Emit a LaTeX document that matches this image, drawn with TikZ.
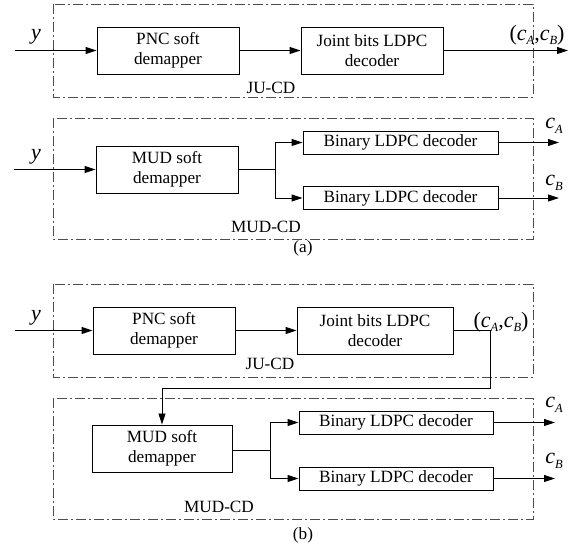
\documentclass[tikz,border=0pt]{standalone}
\usepackage{fontspec}
\setmainfont{Liberation Serif}
\usepackage{tikz}
\usetikzlibrary{arrows.meta, calc, positioning}

% italic symbol with italic subscript, as in the figure
\newcommand{\sig}[2]{\textit{#1}\raisebox{-4.5pt}{\fontsize{12.5}{12.5}\selectfont\textit{#2}}}

\begin{document}
\begin{tikzpicture}[
        x=1pt, y=-1pt,
        font=\fontsize{17.2}{19.5}\selectfont,
        block/.style={
            draw,
            line width=0.9pt,
            align=center,
            inner sep=1pt
        },
        softbox/.style={
            block,
            minimum width=142pt,
            minimum height=47pt
        },
        ldpcbox/.style={
            block,
            minimum width=195pt,
            minimum height=23pt
        },
        frame/.style={
            draw=black!70,
            line width=0.8pt,
            dash pattern=on 10pt off 3pt on 2pt off 3pt
        },
        link/.style={
            line width=0.9pt,
            -{Triangle[length=11pt,width=7pt]}
        },
        wire/.style={
            line width=0.9pt
        },
        framelabel/.style={
            inner sep=1pt
        },
        sigfont/.style={
            inner sep=1pt,
            font=\fontsize{22}{22}\selectfont
        }
    ]
    \useasboundingbox (0,0) rectangle (576,545);

    % (a) joint decoding
    \draw[frame] (53,4) rectangle (533,97);
    \node[softbox] (pncA) at (168,50.5) {PNC soft\\demapper};
    \node[softbox] (jointA) at (372,50.5) {Joint bits LDPC\\decoder};
    \node[framelabel] (juA) at (271,88) {JU-CD};
    \coordinate (inA) at (15,50.5);
    \coordinate (outA) at (568,50.5);
    \node[sigfont] (yA) at (36,37) {\textit{y}};
    \node[sigfont] (cabA) at (537,35) {(\sig{c}{A},\sig{c}{B})};
    \draw[link] (inA) -- (pncA);
    \draw[link] (pncA) -- (jointA);
    \draw[link] (jointA) -- (outA);

    % (a) separate decoding
    \draw[frame] (53,118) rectangle (533,239);
    \node[softbox] (mudA) at (167,169.5) {MUD soft\\demapper};
    \node[ldpcbox] (binA1) at (400.5,142.5) {Binary LDPC decoder};
    \node[ldpcbox] (binA2) at (400.5,198) {Binary LDPC decoder};
    \node[framelabel] (mudcdA) at (266,227) {MUD-CD};
    \coordinate (inA2) at (14,169.5);
    \coordinate (splitA) at (275,169.5);
    \coordinate (outA1) at (559,142.5);
    \coordinate (outA2) at (559,198);
    \node[sigfont] (yA2) at (36,157) {\textit{y}};
    \node[sigfont] (caA) at (554,126) {\sig{c}{A}};
    \node[sigfont] (cbA) at (554,183) {\sig{c}{B}};
    \draw[link] (inA2) -- (mudA);
    \draw[wire] (mudA) -- (splitA);
    \draw[link] (splitA) |- (binA1);
    \draw[link] (splitA) |- (binA2);
    \draw[link] (binA1) -- (outA1);
    \draw[link] (binA2) -- (outA2);
    \node (capA) at (303,248) {(a)};

    % (b) joint decoding
    \draw[frame] (53,284) rectangle (533,377);
    \node[softbox] (pncB) at (164,330.5) {PNC soft\\demapper};
    \node[softbox, minimum width=156pt] (jointB) at (375,330.5) {Joint bits LDPC\\decoder};
    \node[framelabel] (juB) at (270,364) {JU-CD};
    \coordinate (inB) at (15,330.5);
    \coordinate (turnB) at (490,388);
    \node[sigfont] (yB) at (36,318) {\textit{y}};
    \node[sigfont] (cabB) at (501,322) {(\sig{c}{A},\sig{c}{B})};
    \draw[link] (inB) -- (pncB);
    \draw[link] (pncB) -- (jointB);

    % (b) separate decoding
    \draw[frame] (53,398) rectangle (533,519);
    \node[softbox, minimum width=140pt] (mudB) at (162,448.5) {MUD soft\\demapper};
    \node[ldpcbox, minimum width=194pt] (binB1) at (396,422.5) {Binary LDPC decoder};
    \node[ldpcbox, minimum width=194pt] (binB2) at (396,478.5) {Binary LDPC decoder};
    \node[framelabel] (mudcdB) at (219,507) {MUD-CD};
    \coordinate (splitB) at (270,450);
    \coordinate (outB1) at (555,422.5);
    \coordinate (outB2) at (555,478.5);
    \node[sigfont] (caB) at (554,405) {\sig{c}{A}};
    \node[sigfont] (cbB) at (554,461) {\sig{c}{B}};
    \draw[link] (jointB) -| (turnB) -| (mudB.north);
    \draw[wire] (mudB.east |- splitB) -- (splitB);
    \draw[link] (splitB) |- (binB1);
    \draw[link] (splitB) |- (binB2);
    \draw[link] (binB1) -- (outB1);
    \draw[link] (binB2) -- (outB2);
    \node (capB) at (303,535) {(b)};
\end{tikzpicture}
\end{document}
